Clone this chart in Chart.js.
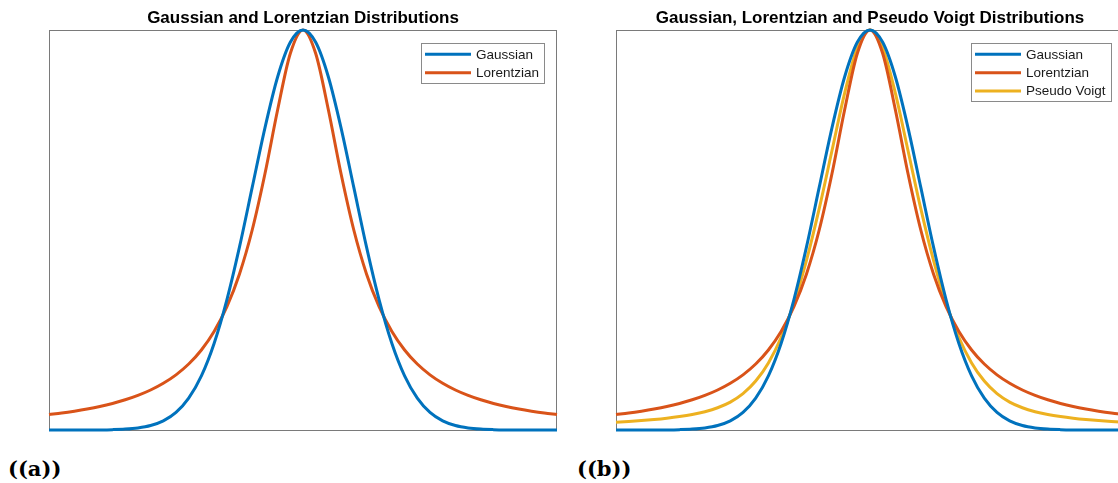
<!DOCTYPE html>
<html><head><meta charset="utf-8">
<script src="https://cdn.jsdelivr.net/npm/chart.js@4.4.1/dist/chart.umd.min.js"></script>
<style>
html,body{margin:0;padding:0;background:#fff;overflow:hidden;width:1118px;height:483px;position:relative}
canvas{position:absolute;top:0}
.sub{position:absolute;font-family:"DejaVu Serif",serif;font-weight:bold;font-size:21px;line-height:21px;color:#000;white-space:nowrap}
</style></head><body>
<canvas id="ca" width="570" height="440" style="left:0px"></canvas>
<canvas id="cb" width="580" height="440" style="left:560px"></canvas>
<div class="sub" style="left:8px;top:458px">((a))</div>
<div class="sub" style="left:577px;top:458px">((b))</div>
<script>
// x positions (sample points)
const xValues = [-10,-9.5,-9,-8.5,-8,-7.5,-7,-6.5,-6,-5.5,-5,-4.5,-4,-3.5,-3,-2.5,-2,-1.5,-1,-0.5,0,
                 0.5,1,1.5,2,2.5,3,3.5,4,4.5,5,5.5,6,6.5,7,7.5,8,8.5,9,9.5,10];
// read-off curve heights (normalised, peak = 1)
const gaussian = [0,0,0,0.0001,0.0003,0.0009,0.0022,0.0051,0.0111,0.0228,0.0439,0.0796,0.1353,0.2163,0.3247,0.4578,0.6065,0.7548,0.8825,0.9692,1,
                  0.9692,0.8825,0.7548,0.6065,0.4578,0.3247,0.2163,0.1353,0.0796,0.0439,0.0228,0.0111,0.0051,0.0022,0.0009,0.0003,0.0001,0,0,0];
const lorentzian = [0.0385,0.0424,0.0471,0.0525,0.0588,0.0664,0.0755,0.0865,0.1,0.1168,0.1379,0.1649,0.2,0.2462,0.3077,0.3902,0.5,0.64,0.8,0.9412,1,
                    0.9412,0.8,0.64,0.5,0.3902,0.3077,0.2462,0.2,0.1649,0.1379,0.1168,0.1,0.0865,0.0755,0.0664,0.0588,0.0525,0.0471,0.0424,0.0385];
const pseudoVoigt = [0.0193,0.0212,0.0236,0.0263,0.0296,0.0337,0.0389,0.0458,0.0556,0.0698,0.0909,0.1223,0.1677,0.2313,0.3162,0.424,0.5533,0.6974,0.8413,0.9552,1,
                     0.9552,0.8413,0.6974,0.5533,0.424,0.3162,0.2313,0.1677,0.1223,0.0909,0.0698,0.0556,0.0458,0.0389,0.0337,0.0296,0.0263,0.0236,0.0212,0.0193];
const seriesNames = ['Gaussian','Lorentzian','Pseudo Voigt'];
const titleA = 'Gaussian and Lorentzian Distributions';
const titleB = 'Gaussian, Lorentzian and Pseudo Voigt Distributions';

const COLORS = ['#0072BD','#D95319','#EDB120'];
const FONT = '"Liberation Sans", Arial, Helvetica, sans-serif';

function ds(label, values, color){
  return {label, data: xValues.map((x,i)=>({x, y: values[i]})), borderColor: color,
          backgroundColor: color, borderWidth: 3, pointRadius: 0, fill: false,
          cubicInterpolationMode: 'monotone', clip: 6};
}

const frame = {
  id: 'frame',
  beforeDatasetsDraw(chart){
    const {ctx, chartArea: a} = chart;
    ctx.save();
    ctx.strokeStyle = '#7a7a7a';
    ctx.lineWidth = 1;
    ctx.strokeRect(Math.round(a.left)+0.5, Math.round(a.top)+0.5, Math.round(a.right-a.left)-1, Math.round(a.bottom-a.top));
    ctx.restore();
  }
};

const boxLegend = {
  id: 'boxLegend',
  afterDraw(chart){
    const {ctx, chartArea: a} = chart;
    const sets = chart.data.datasets;
    ctx.save();
    ctx.font = '13.5px ' + FONT;
    const tw = Math.max(...sets.map(d => ctx.measureText(d.label).width));
    const padL = 4, lineLen = 46, gap = 5, padR = 5, rowH = 18.4, padV = 1.6;
    const w = Math.round(padL + lineLen + gap + tw + padR);
    const h = Math.round(sets.length * rowH + padV * 2);
    const x = Math.round(a.right - 13 - w), y = Math.round(a.top + 13);
    ctx.fillStyle = '#fff';
    ctx.fillRect(x, y, w, h);
    ctx.strokeStyle = '#8a8a8a';
    ctx.lineWidth = 1;
    ctx.strokeRect(x + 0.5, y + 0.5, w, h);
    sets.forEach((d, i) => {
      const cy = y + padV + rowH * (i + 0.5) + 0.5;
      ctx.strokeStyle = d.borderColor;
      ctx.lineWidth = 3;
      ctx.beginPath();
      ctx.moveTo(x + padL, cy);
      ctx.lineTo(x + padL + lineLen, cy);
      ctx.stroke();
      ctx.fillStyle = '#1a1a1a';
      ctx.textBaseline = 'middle';
      ctx.textAlign = 'left';
      ctx.fillText(d.label, x + padL + lineLen + gap, cy + 0.5);
    });
    ctx.restore();
  }
};

function make(id, title, datasets, padL, padR){
  return new Chart(document.getElementById(id), {
    type: 'line',
    data: { datasets },
    options: {
      responsive: false, animation: false, devicePixelRatio: 1,
      layout: { padding: { left: padL, right: padR, top: 0, bottom: 10 } },
      scales: {
        x: { type: 'linear', min: -10, max: 10, display: false },
        y: { type: 'linear', min: 0, max: 1, display: false }
      },
      plugins: {
        legend: { display: false },
        tooltip: { enabled: false },
        title: { display: true, text: title, color: '#000',
                 font: { family: FONT, size: 17, weight: 'bold' },
                 padding: { top: 8, bottom: 1.6 } }
      }
    },
    plugins: [frame, boxLegend]
  });
}

make('ca', titleA, [
  ds(seriesNames[0], gaussian, COLORS[0]),
  ds(seriesNames[1], lorentzian, COLORS[1])
], 49, 13);

make('cb', titleB, [
  ds(seriesNames[0], gaussian, COLORS[0]),
  ds(seriesNames[1], lorentzian, COLORS[1]),
  ds(seriesNames[2], pseudoVoigt, COLORS[2])
], 56, 16);
</script>
</body></html>
